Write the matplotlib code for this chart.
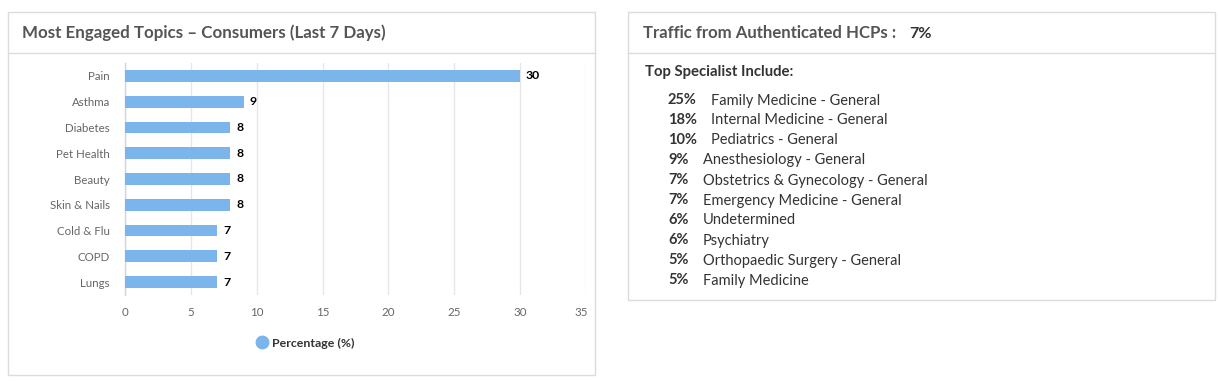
import matplotlib
matplotlib.use("Agg")
import matplotlib.pyplot as plt
from matplotlib.patches import Rectangle
from matplotlib.lines import Line2D
from matplotlib.transforms import ScaledTranslation

# ---- data ----
categories = ["Pain", "Asthma", "Diabetes", "Pet Health", "Beauty",
              "Skin & Nails", "Cold & Flu", "COPD", "Lungs"]
values = [30, 9, 8, 8, 8, 8, 7, 7, 7]
x_ticks = [0, 5, 10, 15, 20, 25, 30, 35]
series_name = "Percentage (%)"

left_title = "Most Engaged Topics \u2013 Consumers (Last 7 Days)"
right_title = "Traffic from Authenticated HCPs :"
right_title_value = "7%"
list_heading = "Top Specialist Include:"
spec_pcts = ["25%", "18%", "10%", "9%", "7%", "7%", "6%", "6%", "5%", "5%"]
spec_names = ["Family Medicine - General", "Internal Medicine - General",
              "Pediatrics - General", "Anesthesiology - General",
              "Obstetrics & Gynecology - General", "Emergency Medicine - General",
              "Undetermined", "Psychiatry", "Orthopaedic Surgery - General",
              "Family Medicine"]

W, H = 1218, 381
plt.rcParams['font.family'] = ['Lato', 'DejaVu Sans']
fig = plt.figure(figsize=(W / 100, H / 100), dpi=100)
fig.patch.set_facecolor("white")


def fx(x):
    return x / W


def fy(y):
    return 1 - y / H


BORDER = "#dcdcdc"
# panels
fig.add_artist(Rectangle((fx(7.5), fy(374.5)), fx(595 - 7.5), (374.5 - 11.5) / H,
                         transform=fig.transFigure, fill=False, ec=BORDER, lw=1))
fig.add_artist(Line2D([fx(8), fx(595)], [fy(52.5), fy(52.5)],
                      transform=fig.transFigure, color=BORDER, lw=1))
fig.add_artist(Rectangle((fx(627.5), fy(299.5)), fx(1215 - 627.5), (299.5 - 11.5) / H,
                         transform=fig.transFigure, fill=False, ec=BORDER, lw=1))
fig.add_artist(Line2D([fx(628), fx(1215)], [fy(52.5), fy(52.5)],
                      transform=fig.transFigure, color=BORDER, lw=1))

# titles
fig.text(fx(22), fy(33), left_title, fontsize=12.2, fontweight='bold',
         color="#555555", va='center', ha='left')
fig.text(fx(643), fy(33), right_title, fontsize=12.1, fontweight='bold',
         color="#555555", va='center', ha='left')
fig.text(fx(909), fy(34), right_title_value, fontsize=11.6, fontweight='bold',
         color="#333333", va='center', ha='left')

# bar chart
ax = fig.add_axes([fx(125), fy(295), fx(586 - 125), (295 - 63) / H])
ypos = list(range(len(categories)))
ax.barh(ypos, values, height=0.46, color="#7cb5ec", zorder=3)
for y, v in zip(ypos, values):
    ax.annotate(f"{v}", (v, y), xytext=(4.2, 0), textcoords='offset points',
                va='center', ha='left', fontsize=8.8, fontweight='bold', color="#000000")
ax.set_ylim(len(categories) - 0.5, -0.5)
ax.set_xlim(0, 35)
ax.set_yticks(ypos)
ax.set_yticklabels(categories)
ax.set_xticks(x_ticks)
ax.tick_params(axis='y', length=0, pad=11, labelsize=8.3, labelcolor="#666666")
ax.tick_params(axis='x', length=0, pad=9, labelsize=8.3, labelcolor="#666666")
ax.grid(axis='x', color="#e6e6e6", lw=1, zorder=0)
for s in ["top", "right", "bottom"]:
    ax.spines[s].set_visible(False)
ax.spines["left"].set_color("#ccd6eb")
ax.spines["left"].set_linewidth(1)
ax.set_facecolor("none")
last = ax.get_xticklabels()[-1]
last.set_transform(last.get_transform() + ScaledTranslation(-5 / 100, 0, fig.dpi_scale_trans))

handle = Line2D([], [], marker='o', linestyle='none', markersize=9,
                markerfacecolor="#7cb5ec", markeredgecolor="#7cb5ec")
leg = fig.legend([handle], [series_name], loc='center',
                 bbox_to_anchor=(fx(305), fy(343)), frameon=False,
                 prop={'size': 8.9, 'weight': 'bold'}, handletextpad=0.3,
                 handlelength=1.0)
for txt in leg.get_texts():
    txt.set_color("#333333")

# right panel list
fig.text(fx(645), fy(72), list_heading, fontsize=10.7, fontweight='bold',
         color="#333333", va='center', ha='left')
for i, (p, n) in enumerate(zip(spec_pcts, spec_names)):
    y = 100.5 + 20 * i
    fig.text(fx(668), fy(y), p, fontsize=10.5, fontweight='bold',
             color="#333333", va='center', ha='left')
    nx = 711 if len(p) == 3 else 703
    fig.text(fx(nx), fy(y), n, fontsize=10.5, color="#333333",
             va='center', ha='left')

fig.savefig("out.png", dpi=100, facecolor="white")
